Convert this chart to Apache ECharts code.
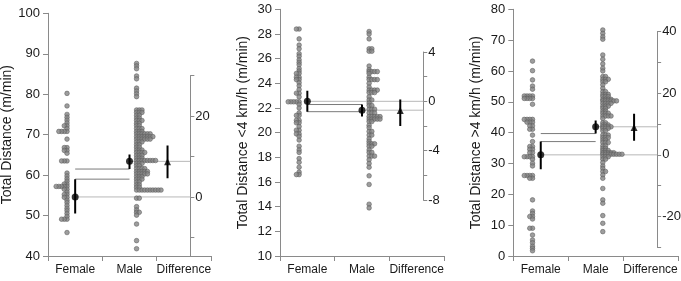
<!DOCTYPE html>
<html><head><meta charset="utf-8">
<script src="https://cdn.jsdelivr.net/npm/echarts@6/dist/echarts.min.js"></script>
<style>html,body{margin:0;padding:0;background:#fff}#c{width:681px;height:281px}</style>
</head><body><div id="c"></div>
<script>
const categories = ['Female', 'Male', 'Difference'];
const yTitles = ['Total Distance (m/min)', 'Total Distance <4 km/h (m/min)', 'Total Distance >4 km/h (m/min)'];

// Panel 1 - Total Distance
const p1Female = [80.2,77.1,75.0,74.3,73.6,72.9,72.2,72.2,71.5,70.8,70.8,70.8,70.8,68.9,66.8,66.8,66.1,66.1,65.4,63.5,63.5,63.5,
  60.5,59.8,59.1,58.5,57.8,57.8,57.2,57.2,57.2,57.2,57.2,56.5,56.5,55.8,55.2,55.2,54.5,54.5,53.8,53.2,52.5,51.8,51.2,50.5,49.8,49.1,49.1,49.1,45.8];
const p1Male = [87.6,87.0,86.3,84.5,83.8,81.5,80.8,80.1,79.4,
  76.1,76.1,76.1,75.5,75.5,75.5,74.8,74.8,74.1,74.1,73.5,73.5,73.5,72.8,72.8,72.2,72.2,71.5,71.5,71.5,70.8,70.8,70.8,
  70.2,70.2,70.2,70.2,70.2,70.2,69.5,69.5,69.5,69.5,69.5,69.5,69.5,68.9,68.9,68.9,68.9,68.9,68.9,68.2,68.2,68.2,67.5,67.5,
  66.9,66.9,66.2,66.2,66.2,65.6,65.6,65.6,65.6,64.9,64.9,64.9,64.2,64.2,64.2,63.6,63.6,63.6,63.6,63.6,63.6,63.6,63.6,
  62.9,62.9,62.9,62.3,62.3,61.6,61.6,61.6,61.6,60.9,60.9,60.9,60.9,60.9,60.3,60.3,60.3,60.3,60.3,59.6,59.6,59.6,59.0,59.0,59.0,
  58.3,58.3,57.6,57.6,57.0,57.0,56.3,56.3,56.3,56.3,56.3,56.3,56.3,56.3,56.3,56.3,54.3,54.3,52.2,51.4,50.8,50.8,50.1,47.9,43.8,41.8];
const p1Means = [54.6, 63.4];
const p1FemaleCI = [50.5, 59.0];
const p1MaleCI = [61.5, 65.1];
const p1Diff = 8.7;
const p1DiffCI = [4.6, 12.7];
const p1YAxis = [40, 100, 10];
const p1DiffRange = [-14.6, 30];
const p1DiffTicks = [-10, 0, 10, 20, 30];
const p1DiffLabels = [0, 20];

// Panel 2 - Total Distance <4 km/h
const p2Female = [28.4,28.4,27.6,27.1,26.8,26.4,26.2,25.9,25.7,25.5,25.2,25.0,24.8,24.8,24.5,24.5,24.3,24.3,24.05,23.8,23.5,23.2,23.2,22.9,
  22.5,22.5,22.5,22.5,22.5,22.3,22.0,21.6,21.4,21.4,21.0,21.0,20.8,20.8,20.5,20.2,20.2,19.9,19.9,19.7,19.4,18.9,18.6,18.4,17.9,17.6,17.2,16.8,16.6,16.6];
const p2Male = [28.2,28.0,27.6,26.8,26.8,26.6,26.6,25.4,25.1,24.95,24.95,24.95,24.95,24.8,24.5,24.3,24.3,24.3,24.3,24.0,23.7,
  23.45,23.45,23.45,23.45,23.25,23.25,23.25,22.9,22.65,22.65,22.4,22.2,22.2,21.9,21.9,21.9,21.6,21.6,21.6,
  21.3,21.3,21.3,21.3,21.3,21.1,21.1,21.1,21.1,21.1,20.9,20.9,20.6,20.4,20.1,20.1,19.8,19.8,19.5,19.3,19.1,19.1,19.1,
  18.9,18.9,18.6,18.4,18.4,18.1,18.1,18.1,17.8,17.5,17.2,16.5,15.8,14.2,13.9];
const p2Means = [22.54, 21.82];
const p2FemaleCI = [21.7, 23.4];
const p2MaleCI = [21.3, 22.28];
const p2Diff = -0.75;
const p2DiffCI = [-2.0, 0.15];
const p2YAxis = [10, 30, 2];
const p2DiffRange = [-8, 4];
const p2DiffTicks = [-8, -6, -4, -2, 0, 2, 4];
const p2DiffLabels = [-8, -4, 0, 4];

// Panel 3 - Total Distance >4 km/h
const p3Female = [63.2,60.1,57.1,55.1,54.1,51.9,51.9,51.9,51.9,51.1,51.1,51.1,51.1,49.2,44.3,44.3,44.3,44.3,43.4,43.4,43.4,42.2,42.2,41.1,41.1,
  39.2,37.1,35.5,35.5,34.6,34.6,33.5,33.5,32.2,32.2,32.2,32.2,31.4,30.1,29.2,26.1,26.1,26.1,26.1,25.2,25.2,
  18.2,14.6,13.8,12.8,12.8,12.0,9.0,9.0,6.8,5.2,4.3,3.2,2.5,1.7];
const p3Male = [73.3,72.2,71.1,70.3,65.2,63.8,62.3,60.9,60.0,58.2,58.2,57.3,57.3,57.3,56.5,56.5,55.5,54.4,53.3,53.3,52.4,52.4,52.4,
  51.7,51.7,51.7,50.8,50.8,50.8,50.8,50.3,50.3,50.3,50.3,50.3,50.3,49.5,49.5,49.5,49.5,48.6,48.6,48.6,47.9,47.9,47.0,47.0,
  46.3,46.3,46.3,45.4,45.4,45.4,45.4,44.6,43.2,43.2,42.5,42.5,42.5,41.9,41.9,41.9,41.9,41.4,41.4,41.4,40.6,40.6,
  39.2,39.2,39.2,38.4,38.4,38.4,37.6,37.6,36.8,36.8,36.8,35.7,35.7,34.9,34.9,34.2,34.2,34.2,33.5,33.5,33.5,33.5,33.5,
  33.0,33.0,33.0,33.0,33.0,33.0,33.0,33.0,32.2,32.2,32.2,31.4,31.4,30.3,29.2,28.4,27.4,27.4,26.3,25.2,21.9,18.2,17.1,13.1,10.6,7.9];
const p3Means = [32.8, 41.9];
const p3FemaleCI = [28.1, 37.1];
const p3MaleCI = [39.7, 43.9];
const p3Diff = 8.9;
const p3DiffCI = [4.6, 13.3];
const p3YAxis = [0, 80, 10];
const p3DiffRange = [-30, 40];
const p3DiffTicks = [-30, -20, -10, 0, 10, 20, 30, 40];
const p3DiffLabels = [-20, 0, 20, 40];

// ---- layout (not data) ----
const FONT = 'Liberation Sans, Arial, sans-serif';
const TXT = '#1a1a1a', AX = '#8a8a8a';
const panelBox = [ {left: 48, right: 211, top: 13.3, bottom: 256},
                   {left: 280, right: 444, top: 9.3, bottom: 256},
                   {left: 513.3, right: 678, top: 9.3, bottom: 256} ];
const X_FEM_COL = 0.35, X_MALE_COL = 1.63, X_FEM_MEAN = 0.5, X_MALE_MEAN = 1.5, X_DIFF = 2.2, X_DIFF_AXIS = 2.62, STEP = 0.05;

function stackDots(vals, col, dir) {
  const seen = {};
  return vals.map(v => { const k = seen[v] || 0; seen[v] = k + 1; return [col + dir * k * STEP, v]; });
}

const panels = [
  {fem: p1Female, male: p1Male, means: p1Means, fci: p1FemaleCI, mci: p1MaleCI, diff: p1Diff, dci: p1DiffCI, y: p1YAxis, dr: p1DiffRange, dt: p1DiffTicks, dl: p1DiffLabels},
  {fem: p2Female, male: p2Male, means: p2Means, fci: p2FemaleCI, mci: p2MaleCI, diff: p2Diff, dci: p2DiffCI, y: p2YAxis, dr: p2DiffRange, dt: p2DiffTicks, dl: p2DiffLabels},
  {fem: p3Female, male: p3Male, means: p3Means, fci: p3FemaleCI, mci: p3MaleCI, diff: p3Diff, dci: p3DiffCI, y: p3YAxis, dr: p3DiffRange, dt: p3DiffTicks, dl: p3DiffLabels}
];

const grid = [], xAxis = [], yAxis = [], series = [];
panels.forEach((p, i) => {
  const b = panelBox[i];
  const h = b.bottom - b.top, w = b.right - b.left;
  const ppu = h / (p.y[1] - p.y[0]);
  const dTop = b.top + (p.y[1] - (p.means[0] + p.dr[1])) * ppu;
  const dBot = b.top + (p.y[1] - (p.means[0] + p.dr[0])) * ppu;
  const dRight = b.left + w * X_DIFF_AXIS / 3;
  grid.push({left: b.left, width: w, top: b.top, height: h, outerBoundsMode: 'none'});
  grid.push({left: b.left, width: dRight - b.left, top: dTop, height: dBot - dTop, outerBoundsMode: 'none'});
  const gMain = 2 * i, gDiff = 2 * i + 1;
  xAxis.push({type: 'category', gridIndex: gMain, data: categories, boundaryGap: true,
    axisLine: {onZero: false, lineStyle: {color: AX, width: 1}},
    axisTick: {show: true, length: 5, lineStyle: {color: AX}},
    axisLabel: {color: TXT, fontSize: 12, fontFamily: FONT, margin: 8, interval: 0}});
  xAxis.push({type: 'value', gridIndex: gMain, min: 0, max: 3, show: false});
  xAxis.push({type: 'value', gridIndex: gDiff, min: 0, max: X_DIFF_AXIS, show: false});
  yAxis.push({type: 'value', gridIndex: gMain, min: p.y[0], max: p.y[1], interval: p.y[2],
    name: yTitles[i], nameLocation: 'middle', nameGap: 30, nameRotate: 90,
    nameTextStyle: {color: TXT, fontSize: 14, fontFamily: FONT},
    axisLine: {show: true, onZero: false, lineStyle: {color: AX}},
    axisTick: {show: true, length: 5, lineStyle: {color: AX}},
    splitLine: {show: false},
    axisLabel: {color: TXT, fontSize: 13, fontFamily: FONT, margin: 8}});
  yAxis.push({type: 'value', gridIndex: gDiff, position: 'right', min: p.dr[0], max: p.dr[1],
    axisLine: {show: true, onZero: false, lineStyle: {color: AX}},
    axisTick: {show: true, length: 4, customValues: p.dt, lineStyle: {color: AX}},
    splitLine: {show: false},
    axisLabel: {color: TXT, fontSize: 13, fontFamily: FONT, margin: 5, customValues: p.dl}});
  const xm = 3 * i + 1, xd = 3 * i + 2, ym = 2 * i, yd = 2 * i + 1;
  const up = p.means[1] >= p.means[0];
  const fEdge = up ? p.fci[1] : p.fci[0];
  const mEdge = up ? p.mci[0] : p.mci[1];
  const seg = (data, color, width, z) => ({type: 'line', xAxisIndex: xm, yAxisIndex: ym, data, symbol: 'none', silent: true,
    lineStyle: {color, width}, z, animation: false});
  series.push(seg([[X_FEM_MEAN, p.means[0]], [X_DIFF_AXIS, p.means[0]]], '#b8b8b8', 1, 1));
  series.push(seg([[X_MALE_MEAN, p.means[1]], [X_DIFF_AXIS, p.means[1]]], '#b8b8b8', 1, 1));
  series.push(seg([[X_FEM_MEAN, fEdge], [X_MALE_MEAN, fEdge]], '#7a7a7a', 1, 1));
  series.push(seg([[X_FEM_MEAN, mEdge], [X_MALE_MEAN, mEdge]], '#7a7a7a', 1, 1));
  const dotStyle = {color: '#848484', borderColor: '#5c5c5c', borderWidth: 0.7};
  series.push({type: 'scatter', xAxisIndex: xm, yAxisIndex: ym, symbolSize: 4.6, itemStyle: dotStyle, z: 2, animation: false,
    data: stackDots(p.fem, X_FEM_COL, -1)});
  series.push({type: 'scatter', xAxisIndex: xm, yAxisIndex: ym, symbolSize: 4.6, itemStyle: dotStyle, z: 2, animation: false,
    data: stackDots(p.male, X_MALE_COL, 1)});
  series.push(seg([[X_FEM_MEAN, p.fci[0]], [X_FEM_MEAN, p.fci[1]]], '#000', 2, 3));
  series.push(seg([[X_MALE_MEAN, p.mci[0]], [X_MALE_MEAN, p.mci[1]]], '#000', 2, 3));
  series.push({type: 'scatter', xAxisIndex: xm, yAxisIndex: ym, symbol: 'circle', symbolSize: 7, itemStyle: {color: '#000'}, z: 4, animation: false,
    data: [[X_FEM_MEAN, p.means[0]], [X_MALE_MEAN, p.means[1]]]});
  series.push({type: 'line', xAxisIndex: xd, yAxisIndex: yd, data: [[X_DIFF, p.dci[0]], [X_DIFF, p.dci[1]]], symbol: 'none',
    lineStyle: {color: '#000', width: 2}, z: 3, animation: false});
  series.push({type: 'scatter', xAxisIndex: xd, yAxisIndex: yd, symbol: 'triangle', symbolSize: 7, itemStyle: {color: '#000'}, z: 4, animation: false,
    data: [[X_DIFF, p.diff]]});
});

const chart = echarts.init(document.getElementById('c'), null, {renderer: 'canvas'});
chart.setOption({backgroundColor: '#fff', animation: false, grid, xAxis, yAxis, series, tooltip: {show: false}});
</script></body></html>
